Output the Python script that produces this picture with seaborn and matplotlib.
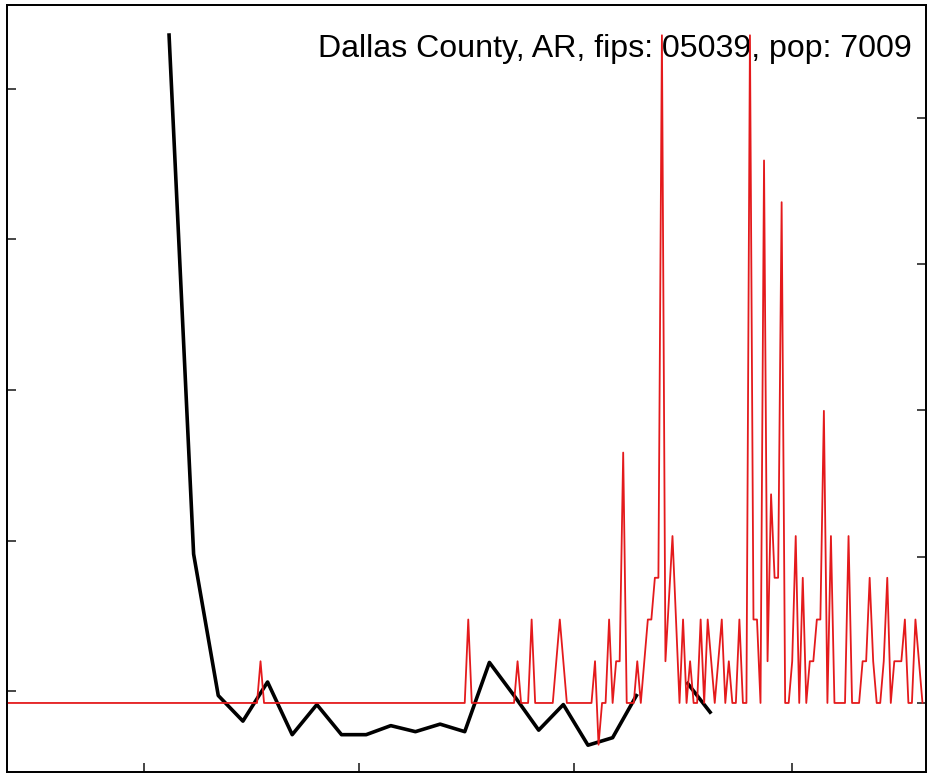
import numpy as np
import pandas as pd
import matplotlib
matplotlib.use("Agg")
import matplotlib.pyplot as plt
import seaborn as sns

# ---------------- data ----------------
county_label = "Dallas County, AR, fips: 05039, pop: 7009"
population = 7009

# daily new cases (2020-01-22 .. 2020-10-08)
red_start = "2020-01-22"
daily_cases = [
    0, 0, 0, 0, 0, 0, 0, 0, 0, 0, 0, 0, 0, 0, 0, 0, 0, 0, 0, 0,
    0, 0, 0, 0, 0, 0, 0, 0, 0, 0, 0, 0, 0, 0, 0, 0, 0, 0, 0, 0,
    0, 0, 0, 0, 0, 0, 0, 0, 0, 0, 0, 0, 0, 0, 0, 0, 0, 0, 0, 0,
    0, 0, 0, 0, 0, 0, 0, 0, 0, 0, 0, 0, 1, 0, 0, 0, 0, 0, 0, 0,
    0, 0, 0, 0, 0, 0, 0, 0, 0, 0, 0, 0, 0, 0, 0, 0, 0, 0, 0, 0,
    0, 0, 0, 0, 0, 0, 0, 0, 0, 0, 0, 0, 0, 0, 0, 0, 0, 0, 0, 0,
    0, 0, 0, 0, 0, 0, 0, 0, 0, 0, 0, 2, 0, 0, 0, 0, 0, 0, 0, 0,
    0, 0, 0, 0, 0, 1, 0, 0, 0, 2, 0, 0, 0, 0, 0, 0, 1, 2, 1, 0,
    0, 0, 0, 0, 0, 0, 0, 1, -1, 0, 0, 2, 0, 1, 1, 6, 0, 0, 0, 1,
    0, 1, 2, 2, 3, 3, 16, 1, 2.5, 4, 2, 0, 2, 0, 1, 0, 0, 2, 0, 2,
    1, 0, 1, 2, 0, 1, 0, 0, 2, 0, 0, 16, 2, 2, 0, 13, 1, 5, 3, 3,
    12, 0, 0, 1, 4, 0, 3, 0, 1, 1, 2, 2, 7, 0, 4, 0, 0, 0, 0, 4,
    0, 0, 0, 1, 1, 3, 1, 0, 0, 1, 3, 0, 1, 1, 1, 2, 0, 0, 2, 1, 0,
]

# weekly black series (left axis units), NaN = missing week
black_start = "2020-03-08"
black_values = [4.37, 0.91, -0.03, -0.20, 0.06, -0.29, -0.09, -0.29, -0.29,
                -0.23, -0.27, -0.22, -0.27, 0.19, -0.03, -0.26, -0.09, -0.36,
                -0.31, -0.02, np.nan, 0.06, -0.15]

left_ticks = [0, 1, 2, 3, 4]
right_ticks = [0, 50, 100, 150, 200]
x_tick_dates = ["2020-03-01", "2020-05-01", "2020-07-01", "2020-09-01"]
x_range = ("2020-01-22", "2020-10-09")

# ---------------- frames ----------------
red_df = pd.DataFrame({
    "date": pd.date_range(red_start, periods=len(daily_cases), freq="D"),
    "rate": np.array(daily_cases, dtype=float) * 100000.0 / population,
})
bvals = np.array(black_values, dtype=float)
black_df = pd.DataFrame({
    "date": pd.date_range(black_start, periods=len(bvals), freq="7D"),
    "value": bvals,
    "seg": np.cumsum(np.isnan(bvals)),
}).dropna()

# ---------------- plot ----------------
sns.set_style("white")
plt.rcParams["font.family"] = ["Liberation Sans", "DejaVu Sans"]

W, H = 933, 778
fig = plt.figure(figsize=(W / 100, H / 100), dpi=100)
l, r, t, b = 7, 926, 4.5, 772
ax = fig.add_axes([l / W, 1 - b / H, (r - l) / W, (b - t) / H])
ax2 = ax.twinx()

sns.lineplot(data=black_df, x="date", y="value", units="seg", estimator=None,
             ax=ax, color="black", linewidth=2.6, legend=False,
             solid_capstyle="butt")
sns.lineplot(data=red_df, x="date", y="rate", ax=ax2, color="#e41a1c",
             linewidth=1.3, legend=False)

ax.set_xlim(pd.Timestamp(x_range[0]), pd.Timestamp(x_range[1]))
ax.set_ylim(-0.538, 4.561)
ax2.set_ylim(-23.6, 238.8)

ax.set_xticks([pd.Timestamp(d) for d in x_tick_dates])
ax.set_xticklabels([])
ax.set_yticks(left_ticks)
ax.set_yticklabels([])
ax2.set_yticks(right_ticks)
ax2.set_yticklabels([])
for a in (ax, ax2):
    a.set_xlabel("")
    a.set_ylabel("")
    for s in a.spines.values():
        s.set_visible(True)
        s.set_color("black")
        s.set_linewidth(1.3)

ax.tick_params(axis="both", direction="in", length=6.5, width=1.2,
               left=True, bottom=True, right=False, top=False,
               labelleft=False, labelbottom=False)
ax2.tick_params(axis="y", direction="in", length=6.5, width=1.2,
                right=True, left=False, labelright=False)

ax.text(0.985, 1 - (57 - t) / (b - t), county_label, transform=ax.transAxes,
        ha="right", va="baseline", fontsize=23.1, color="black")

fig.savefig("out.png", dpi=100)
